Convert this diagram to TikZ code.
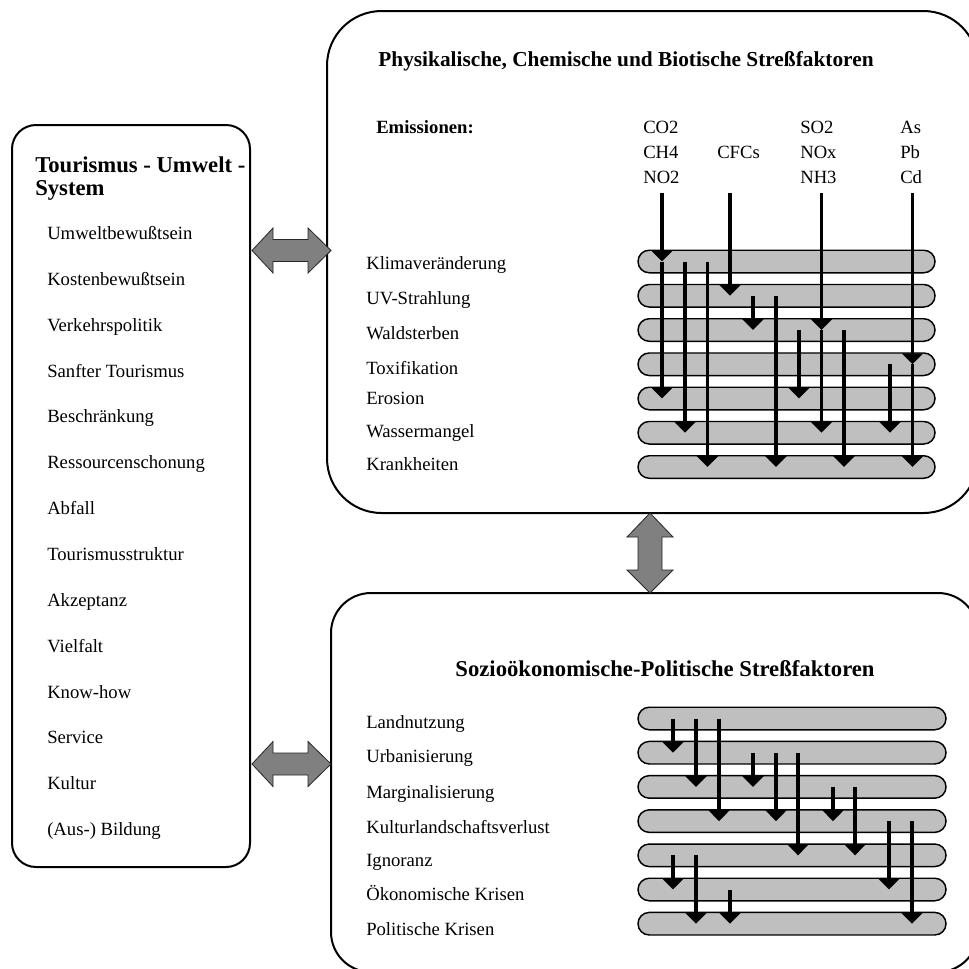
\documentclass[tikz,border=0pt]{standalone}
\usepackage{fontspec}
\setmainfont{Liberation Serif}
\usetikzlibrary{arrows.meta,positioning,calc}

\begin{document}
\begin{tikzpicture}[
    x=0.75pt,y=-0.75pt,
    frame/.style={rectangle,draw,line width=1.5pt},
    item/.style={anchor=base west,inner sep=0pt,font=\fontsize{14}{16}\selectfont},
    head/.style={anchor=base,inner sep=0pt,font=\fontsize{16}{19}\selectfont\bfseries},
    bar/.style={rectangle,draw,fill=black!25,line width=1.1pt,rounded corners=8.4pt,minimum height=16.9pt,inner sep=0pt},
    flow/.style={line width=2.5pt,-{Triangle[width=15.75pt,length=8.25pt]}},
    swap/.style={draw=black!85,fill=black!50,line width=0.6pt,line join=miter}
]
    \useasboundingbox (0,0) rectangle (969,968);
    \clip (0,0) rectangle (969,968);

    % Frames
    \node[frame,rounded corners=18pt,minimum width=178.5pt,minimum height=556.5pt] (tum) at (131,496) {};
    \node[frame,rounded corners=41pt,minimum width=488.25pt,minimum height=376.5pt] (phys) at (652.5,262) {};
    \node[frame,rounded corners=30pt,minimum width=485.25pt,minimum height=284.25pt] (socio) at (654.5,782.5) {};

    % Exchange arrows
    \draw[swap] (252,250.5) -- (273,228) -- (273,239.5) -- (308,239.5) -- (308,228) -- (331,250.5) -- (308,273) -- (308,261.5) -- (273,261.5) -- (273,273) -- cycle;
    \draw[swap] (252,764) -- (273,741.5) -- (273,753) -- (308,753) -- (308,741.5) -- (331,764) -- (308,786.5) -- (308,775) -- (273,775) -- (273,786.5) -- cycle;
    \draw[swap] (650,513) -- (673,537) -- (662,537) -- (662,570) -- (673,570) -- (650,593) -- (627,570) -- (638,570) -- (638,537) -- (627,537) -- cycle;

    % Left system
    \node[item,font=\fontsize{17}{20}\selectfont\bfseries] (tum1) at (35,172) {Tourismus - Umwelt -};
    \node[item,font=\fontsize{17}{20}\selectfont\bfseries] (tum2) at (35,195) {System};
    \node[item] (u1) at (47,239) {Umweltbewußtsein};
    \node[item] (u2) at (47,285) {Kostenbewußtsein};
    \node[item] (u3) at (47,331) {Verkehrspolitik};
    \node[item] (u4) at (47,377) {Sanfter Tourismus};
    \node[item] (u5) at (47,422) {Beschränkung};
    \node[item] (u6) at (47,468) {Ressourcenschonung};
    \node[item] (u7) at (47,514) {Abfall};
    \node[item] (u8) at (47,560) {Tourismusstruktur};
    \node[item] (u9) at (47,606) {Akzeptanz};
    \node[item] (u10) at (47,652) {Vielfalt};
    \node[item] (u11) at (47,698) {Know-how};
    \node[item] (u12) at (47,743) {Service};
    \node[item] (u13) at (47,789) {Kultur};
    \node[item] (u14) at (47,835) {(Aus-) Bildung};

    % Physical, chemical, biotic stress
    \node[head] (phystitle) at (626,66) {Physikalische, Chemische und Biotische Streßfaktoren};
    \node[item,font=\fontsize{14}{16}\selectfont\bfseries] (emis) at (376,133) {Emissionen:};
    \node[item] (co2) at (643,133) {CO2};
    \node[item] (ch4) at (643,158) {CH4};
    \node[item] (no2) at (643,183) {NO2};
    \node[item] (cfc) at (717,158) {CFCs};
    \node[item] (so2) at (800,133) {SO2};
    \node[item] (nox) at (800,158) {NOx};
    \node[item] (nh3) at (800,183) {NH3};
    \node[item] (as) at (900,133) {As};
    \node[item] (pb) at (900,158) {Pb};
    \node[item] (cd) at (900,183) {Cd};

    \node[item] (pl1) at (366,269) {Klimaveränderung};
    \node[item] (pl2) at (366,304) {UV-Strahlung};
    \node[item] (pl3) at (366,339) {Waldsterben};
    \node[item] (pl4) at (366,374) {Toxifikation};
    \node[item] (pl5) at (366,404) {Erosion};
    \node[item] (pl6) at (366,437) {Wassermangel};
    \node[item] (pl7) at (366,470) {Krankheiten};

    \node[bar,minimum width=222.75pt] (pb1) at (786.5,261.5) {};
    \node[bar,minimum width=222.75pt] (pb2) at (786.5,295.75) {};
    \node[bar,minimum width=222.75pt] (pb3) at (786.5,330) {};
    \node[bar,minimum width=222.75pt] (pb4) at (786.5,364.25) {};
    \node[bar,minimum width=222.75pt] (pb5) at (786.5,398.5) {};
    \node[bar,minimum width=222.75pt] (pb6) at (786.5,432.75) {};
    \node[bar,minimum width=222.75pt] (pb7) at (786.5,467) {};

    \coordinate (etop) at (0,193);
    \coordinate (pc1) at (662,0);
    \coordinate (pc2) at (685,0);
    \coordinate (pc3) at (707.5,0);
    \coordinate (pc4) at (730,0);
    \coordinate (pc5) at (753,0);
    \coordinate (pc6) at (776,0);
    \coordinate (pc7) at (799,0);
    \coordinate (pc8) at (821.5,0);
    \coordinate (pc9) at (844,0);
    \coordinate (pc10) at (890,0);
    \coordinate (pc11) at (912.5,0);

    \draw[flow] (pc1 |- etop) -- (pc1 |- pb1);
    \draw[flow] (pc1 |- pb1) -- (pc1 |- pb5);
    \draw[flow] (pc2 |- pb1) -- (pc2 |- pb6);
    \draw[flow] (pc3 |- pb1) -- (pc3 |- pb7);
    \draw[flow] (pc4 |- etop) -- (pc4 |- pb2);
    \draw[flow] (pc5 |- pb2) -- (pc5 |- pb3);
    \draw[flow] (pc6 |- pb2) -- (pc6 |- pb7);
    \draw[flow] (pc7 |- pb3) -- (pc7 |- pb5);
    \draw[flow] (pc8 |- etop) -- (pc8 |- pb3);
    \draw[flow] (pc8 |- pb3) -- (pc8 |- pb6);
    \draw[flow] (pc9 |- pb3) -- (pc9 |- pb7);
    \draw[flow] (pc10 |- pb4) -- (pc10 |- pb6);
    \draw[flow] (pc11 |- etop) -- (pc11 |- pb4);
    \draw[flow] (pc11 |- pb4) -- (pc11 |- pb7);

    % Socio-economic, political stress
    \node[head,font=\fontsize{17}{20}\selectfont\bfseries] (sociotitle) at (665,676) {Sozioökonomische-Politische Streßfaktoren};

    \node[item] (sl1) at (366,728) {Landnutzung};
    \node[item] (sl2) at (366,762) {Urbanisierung};
    \node[item] (sl3) at (366,798) {Marginalisierung};
    \node[item] (sl4) at (366,833) {Kulturlandschaftsverlust};
    \node[item] (sl5) at (366,866) {Ignoranz};
    \node[item] (sl6) at (366,900) {Ökonomische Krisen};
    \node[item] (sl7) at (366,935) {Politische Krisen};

    \node[bar,minimum width=231pt] (sb1) at (792,718.5) {};
    \node[bar,minimum width=231pt] (sb2) at (792,752.7) {};
    \node[bar,minimum width=231pt] (sb3) at (792,786.9) {};
    \node[bar,minimum width=231pt] (sb4) at (792,821.1) {};
    \node[bar,minimum width=231pt] (sb5) at (792,855.3) {};
    \node[bar,minimum width=231pt] (sb6) at (792,889.5) {};
    \node[bar,minimum width=231pt] (sb7) at (792,923.7) {};

    \coordinate (sc1) at (673,0);
    \coordinate (sc2) at (696,0);
    \coordinate (sc3) at (719,0);
    \coordinate (sc4) at (730,0);
    \coordinate (sc5) at (753,0);
    \coordinate (sc6) at (776,0);
    \coordinate (sc7) at (798,0);
    \coordinate (sc8) at (833,0);
    \coordinate (sc9) at (855,0);
    \coordinate (sc10) at (889,0);
    \coordinate (sc11) at (912,0);

    \draw[flow] (sc1 |- sb1) -- (sc1 |- sb2);
    \draw[flow] (sc2 |- sb1) -- (sc2 |- sb3);
    \draw[flow] (sc3 |- sb1) -- (sc3 |- sb4);
    \draw[flow] (sc5 |- sb2) -- (sc5 |- sb3);
    \draw[flow] (sc6 |- sb2) -- (sc6 |- sb4);
    \draw[flow] (sc7 |- sb2) -- (sc7 |- sb5);
    \draw[flow] (sc8 |- sb3) -- (sc8 |- sb4);
    \draw[flow] (sc9 |- sb3) -- (sc9 |- sb5);
    \draw[flow] (sc10 |- sb4) -- (sc10 |- sb6);
    \draw[flow] (sc11 |- sb4) -- (sc11 |- sb7);
    \draw[flow] (sc1 |- sb5) -- (sc1 |- sb6);
    \draw[flow] (sc2 |- sb5) -- (sc2 |- sb7);
    \draw[flow] (sc4 |- sb6) -- (sc4 |- sb7);
\end{tikzpicture}
\end{document}
